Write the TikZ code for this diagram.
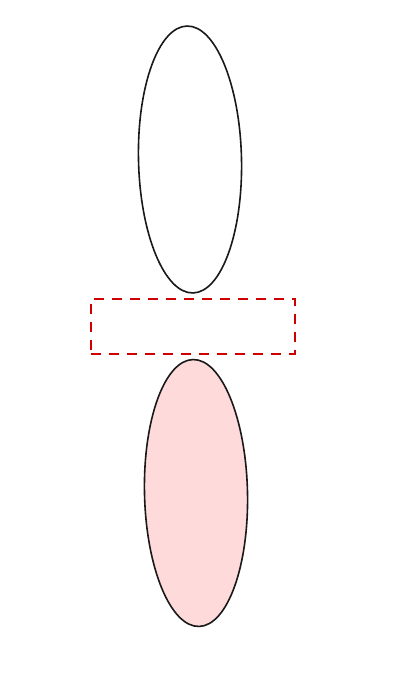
\documentclass[tikz,border=0pt]{standalone}
\usetikzlibrary{shapes.geometric}
\definecolor{dashred}{RGB}{208,0,0}
\definecolor{pinkfill}{RGB}{255,218,218}
\begin{document}
\begin{tikzpicture}[x=1pt,y=-1pt,
  blob/.style={ellipse,draw=black!90,line width=1.6pt,inner sep=0pt,minimum width=103pt,minimum height=267pt,rotate=1.3},
  dashbox/.style={draw=dashred,line width=2.2pt,dash pattern=on 10pt off 8pt,inner sep=0pt,minimum width=204pt,minimum height=55pt}]
\useasboundingbox (0,0) rectangle (413,679);
\node[blob] (top) at (190,159.5) {};
\node[dashbox] (box) at (193,326.5) {};
\node[blob,fill=pinkfill] (bottom) at (196,493) {};
\end{tikzpicture}
\end{document}
